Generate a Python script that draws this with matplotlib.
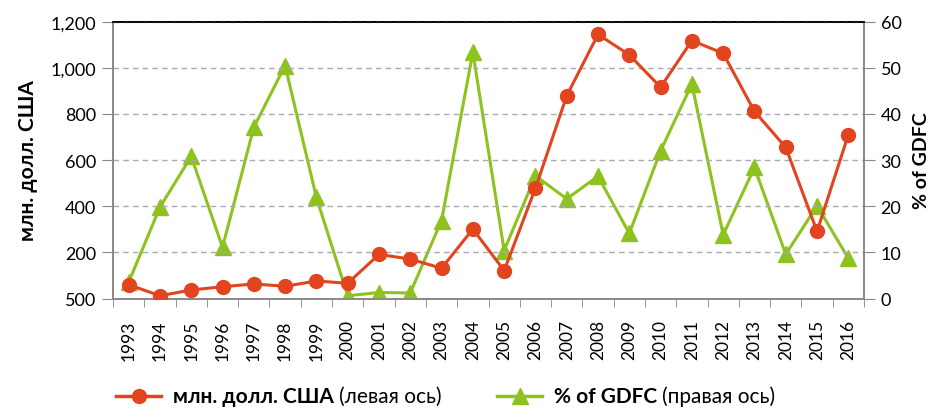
import matplotlib.pyplot as plt
from matplotlib.lines import Line2D
from matplotlib.ticker import FixedLocator, FixedFormatter

# data
years = [str(y) for y in range(1993, 2017)]
usd_mln = [60, 12, 37, 51, 63, 53, 76, 66, 191, 171, 131, 301, 121, 478,
           879, 1145, 1056, 916, 1118, 1063, 811, 655, 291, 710]
pct_gdfc = [3.5, 19.8, 30.8, 11.1, 37.1, 50.5, 21.9, 0.6, 1.3, 1.2, 16.9, 53.4,
            10.4, 26.6, 21.6, 26.5, 14.1, 32.0, 46.5, 13.8, 28.4, 9.6, 20.1, 8.7]
left_ticks = [0, 200, 400, 600, 800, 1000, 1200]
left_labels = ['500', '200', '400', '600', '800', '1,000', '1,200']
right_ticks = [0, 10, 20, 30, 40, 50, 60]

red = '#E2441F'
green = '#8DC21F'
plt.rcParams['font.family'] = ['Lato', 'DejaVu Sans']

fig = plt.figure(figsize=(9.32, 4.10), dpi=100)
ax = fig.add_axes([113/932, 1-299.5/410, 751/932, 276.8/410])
ax2 = ax.twinx()

x = list(range(len(years)))
ax.plot(x, usd_mln, color=red, lw=2.2, marker='o', ms=10, zorder=3)
ax2.plot(x, pct_gdfc, color=green, lw=2.2, marker='^', ms=11.5, zorder=3)
ax.set_zorder(ax2.get_zorder() + 1)
ax.patch.set_visible(False)

ax.set_xlim(-0.5, len(years) - 0.5)
ax.set_ylim(0, 1200)
ax2.set_ylim(0, 60)
ax.yaxis.set_major_locator(FixedLocator(left_ticks))
ax.yaxis.set_major_formatter(FixedFormatter(left_labels))
ax2.set_yticks(right_ticks)
ax.set_xticks(x)
ax.set_xticklabels(years, rotation=90, fontsize=12.5)
ax.set_xticks([i - 0.5 for i in range(len(years) + 1)], minor=True)
ax.tick_params(axis='x', which='major', length=0, pad=15)
ax.tick_params(axis='x', which='minor', length=6, color='#888888')
ax.tick_params(axis='y', length=8, color='#888888', labelsize=13, pad=4)
ax2.tick_params(axis='y', length=8, color='#888888', labelsize=13, pad=4)

ax.grid(axis='y', ls=(0, (4, 3)), color='#aaaaaa', lw=1)
for a in (ax, ax2):
    for s in ('left', 'right', 'bottom'):
        a.spines[s].set_color('#888888')
        a.spines[s].set_linewidth(1.2)
    a.spines['top'].set_color('black')
    a.spines['top'].set_linewidth(1.2)

ax.set_ylabel('млн. долл. США', fontsize=15, fontweight='bold', labelpad=9)
ax2.set_ylabel('% of GDFC', fontsize=14, fontweight='bold', labelpad=8)

# legend drawn by hand to mix bold and regular text
fig.canvas.draw()
r = fig.canvas.get_renderer()
ly = 1 - 397/410

def legend_item(x0, color, marker, ms, bold, regular):
    fig.add_artist(Line2D([x0/932, (x0+45)/932], [ly, ly], color=color, lw=2.5,
                          transform=fig.transFigure))
    fig.add_artist(Line2D([(x0+22.5)/932], [ly], color=color, marker=marker,
                          ms=ms, lw=0, transform=fig.transFigure))
    t = fig.text((x0+57)/932, ly, bold, fontsize=15, fontweight='bold', va='center')
    bb = t.get_window_extent(r)
    fig.text(bb.x1/932 + 5/932, ly, regular, fontsize=15, va='center')

legend_item(116, red, 'o', 10, 'млн. долл. США', '(левая ось)')
legend_item(497, green, '^', 11.5, '% of GDFC', '(правая ось)')

fig.savefig('out.png', dpi=100)
